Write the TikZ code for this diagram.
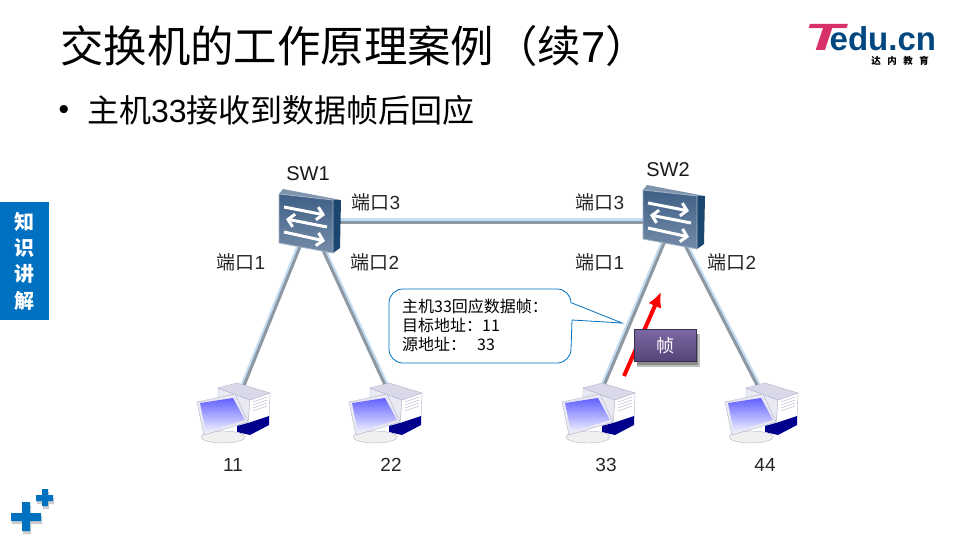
\documentclass[tikz,border=0pt]{standalone}
\usepackage{fontspec}
\setmainfont{Liberation Sans}
\newfontfamily\cjk{Noto Sans CJK SC}
\usetikzlibrary{arrows.meta, positioning}

\definecolor{bluetab}{HTML}{0070C0}
\definecolor{linkgrey}{HTML}{8E98A3}
\definecolor{linkblue}{HTML}{C4DDF3}
\definecolor{swfront}{HTML}{3F5F86}
\definecolor{swtop}{HTML}{7F95AD}
\definecolor{swside}{HTML}{1A4670}
\definecolor{framepurple}{HTML}{6A5496}
\definecolor{logoblue}{HTML}{00477F}
\definecolor{logopink}{HTML}{D8306A}
\definecolor{towertop}{HTML}{D9D9EA}
\definecolor{towerface}{HTML}{E9E9F3}
\definecolor{towerline}{HTML}{B2B2C8}

\tikzset{
  label14/.style={font=\fontsize{19}{22}\selectfont, text=black!85, inner sep=0pt},
  swname/.style={font=\fontsize{20}{22}\selectfont, text=black!90, inner sep=0pt},
  holder/.style={inner sep=0pt, minimum size=4pt},
  swarrow/.style={white, line width=3pt, -{Straight Barb[length=6pt,width=13pt]}},
  pics/switchicon/.style={code={
    \fill[swtop] (-31,-28) -- (-27,-33) -- (31,-22) -- (23,-22) -- cycle;
    \fill[swside] (23,-22) -- (31,-22) -- (30,26) -- (23,31) -- cycle;
    \draw[draw=swtop!70!white, top color=swfront, bottom color=swfront!72!white, line width=0.8pt] (-31,-28) -- (23,-22) -- (23,31) -- (-31,21) -- cycle;
    \draw[swarrow] (-26,-15) -- (15,-7);
    \draw[swarrow] (17,5) -- (-24,-3);
    \draw[swarrow] (-26,10) -- (15,19);
  }},
  pics/hosticon/.style={code={
    % tower
    \draw[towerline, fill=towerface] (-15,-22) -- (17,-10) -- (15,18) -- (-15,10) -- cycle;
    \draw[towerline, fill=towertop] (-15,-22) -- (4,-27) -- (37,-17) -- (17,-10) -- cycle;
    \draw[towerline, fill=white] (17,-10) -- (37,-17) -- (36,8) -- (15,14) -- cycle;
    \fill[blue!55!black] (15,13) -- (36,6) -- (36,15) -- (17,25) -- (4,22) -- (4,16) -- cycle;
    \draw[towerline] (20,-8) -- (34,-13) (20,-5) -- (34,-10) (20,-2) -- (34,-7) (20,1) -- (34,-4);
    % monitor
    \draw[towerline, fill=black!6] (-10,27) ellipse (22 and 6);
    \draw[towerline, fill=towerface] (-36,-8) -- (2,-16) -- (15,12) -- (-29,25) -- cycle;
    \shade[top color=blue!62!white, bottom color=blue!6!white] (-33,-7) -- (0,-12) -- (12,10) -- (-27,22) -- cycle;
  }}
}

\begin{document}
\begin{tikzpicture}[x=1pt,y=-1pt]
\useasboundingbox (0,0) rectangle (960,540);

% heading
\node[anchor=base west, inner sep=0pt, font=\fontsize{43.4}{48}\selectfont] (heading) at (60,63) {{\cjk 交换机的工作原理案例（续}7{\cjk ）}};
\node[inner sep=0pt, font=\fontsize{30}{32}\selectfont] (bullet) at (64,112) {•};
\node[anchor=base west, inner sep=0pt, font=\fontsize{32}{38}\selectfont] (subhead) at (87,123) {{\cjk 主机}33{\cjk 接收到数据帧后回应}};

% logo
\node[anchor=base west, inner sep=0pt, font=\fontsize{33}{40}\selectfont\bfseries, text=logoblue] (logotext) at (804,51) {\textcolor{logopink}{\itshape\fontsize{38}{40}\selectfont\scalebox{1.7}[1]{T}}\kern-14pt edu.cn};
\node[inner sep=0pt, font=\fontsize{9.5}{11}\selectfont\cjk\bfseries] (logocn) at (900,60.5) {达\hspace{6.5pt}内\hspace{6.5pt}教\hspace{6.5pt}育};

% side tab
\node[fill=bluetab, text=white, minimum width=49pt, minimum height=118pt, inner sep=0pt, anchor=north west, align=center, font=\fontsize{20}{26.3}\selectfont\cjk\bfseries] (sidetab) at (0,202) {知\\识\\讲\\解};

% plus marks
\fill[black!20] (12,516) rectangle (42,524) (23,505) rectangle (31,534);
\fill[black!20] (37,498) rectangle (54,504) (43,492) rectangle (49,509);
\fill[bluetab] (11,513) rectangle (41,521) (22,502) rectangle (30,531);
\fill[bluetab] (36,495) rectangle (53,501) (42,489) rectangle (48,506);

% network nodes
\node[holder] (sw1) at (310,222) {};
\node[holder] (sw2) at (673,222) {};
\node[holder] (h11) at (243,388) {};
\node[holder] (h22) at (385,385) {};
\node[holder] (h33) at (603,388) {};
\node[holder] (h44) at (757,385) {};

% links
\draw[linkblue, line width=4.5pt] ([xshift=-1.5pt]sw1.center) -- ([xshift=-1.5pt]h11.center);
\draw[linkblue, line width=4.5pt] ([xshift=1.5pt]sw1.center) -- ([xshift=1.5pt]h22.center);
\draw[linkblue, line width=4.5pt] ([yshift=1.5pt]sw1.center) -- ([yshift=1.5pt]sw2.center);
\draw[linkblue, line width=4.5pt] ([xshift=-1.5pt]sw2.center) -- ([xshift=-1.5pt]h33.center);
\draw[linkblue, line width=4.5pt] ([xshift=1.5pt]sw2.center) -- ([xshift=1.5pt]h44.center);
\draw[linkgrey, line width=3pt] (sw1.center) -- (h11.center);
\draw[linkgrey, line width=3pt] (sw1.center) -- (h22.center);
\draw[linkgrey, line width=3pt] (sw1.center) -- (sw2.center);
\draw[linkgrey, line width=3pt] (sw2.center) -- (h33.center);
\draw[linkgrey, line width=3pt] (sw2.center) -- (h44.center);

% icons
\pic at (310,222) {switchicon};
\pic at (674,218) {switchicon};
\pic at (233,410) {hosticon};
\pic at (385,410) {hosticon};
\pic at (598,410) {hosticon};
\pic at (761,410) {hosticon};

% labels
\node[swname] (sw1name) at (308,174) {SW1};
\node[swname] (sw2name) at (668,170) {SW2};
\node[label14] (port13) at (376,202) {{\cjk 端口}3};
\node[label14] (port11) at (241,262) {{\cjk 端口}1};
\node[label14] (port12) at (375,262) {{\cjk 端口}2};
\node[label14] (port23) at (600,202) {{\cjk 端口}3};
\node[label14] (port21) at (600,262) {{\cjk 端口}1};
\node[label14] (port22) at (732,262) {{\cjk 端口}2};
\node[label14] (n11) at (233,465) {11};
\node[label14] (n22) at (391,465) {22};
\node[label14] (n33) at (606,465) {33};
\node[label14] (n44) at (765,465) {44};

% callout
\draw[bluetab, fill=white, line width=0.8pt] (403,289) -- (557,289) arc[start angle=-90, end angle=0, radius=14] -- (572,303) -- (622,323) -- (572,320) -- (571,349) arc[start angle=0, end angle=90, radius=14] -- (403,363) arc[start angle=90, end angle=180, radius=14] -- (389,303) arc[start angle=180, end angle=270, radius=14] -- cycle;
\node[anchor=north west, inner sep=0pt, align=left, font=\fontsize{16}{19}\selectfont\cjk] (calltext) at (402,299) {主机33回应数据帧：\\目标地址：11\\源地址：\hspace{11pt}33};

% red arrow and frame
\node[holder] (arrowstart) at (624,376) {};
\node[holder] (arrowend) at (661,292) {};
\draw[red, line width=4pt, -{Latex[length=15pt,width=14pt]}] (arrowstart.center) -- (arrowend.center);
\fill[black!25] (637,334) rectangle (700,367);
\fill[black!45] (637,334) rectangle (698,365);
\node[draw=framepurple!55!black, line width=0.8pt, top color=framepurple!88!white, bottom color=framepurple!80!black, text=white, minimum width=62pt, minimum height=32pt, inner sep=0pt, font=\fontsize{18}{20}\selectfont\cjk] (framebox) at (665.5,345.5) {帧};

\end{tikzpicture}
\end{document}
